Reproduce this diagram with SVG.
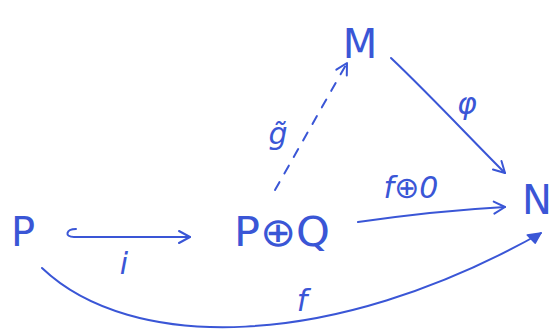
<svg xmlns="http://www.w3.org/2000/svg" width="552" height="329" viewBox="0 0 552 329">
<style>
.t{font-family:"DejaVu Sans","Liberation Sans",sans-serif;fill:#3a56d6}
.n{font-size:40px}
.l{font-size:30px;font-style:italic}
.c{fill:none;stroke:#3a56d6;stroke-width:2;stroke-linecap:round;stroke-linejoin:round}
</style>
<defs>
<marker id="open" markerWidth="16" markerHeight="16" refX="13" refY="8" orient="auto" markerUnits="userSpaceOnUse">
<path d="M2,2 L13,8 L2,14" fill="none" stroke="#3a56d6" stroke-width="2" stroke-linecap="round" stroke-linejoin="round"/>
</marker>
<marker id="fill" markerWidth="18" markerHeight="16" refX="15" refY="8" orient="auto" markerUnits="userSpaceOnUse">
<path d="M2,3 L15,8 L5,14 Z" fill="#3a56d6" stroke="#3a56d6" stroke-width="1.5" stroke-linejoin="round"/>
</marker>
</defs>
<rect width="552" height="329" fill="#fff"/>
<g id="connectors">
<g id="edge-i">
<path class="c" d="M76,229 C66,229 64,237 74,237 L190,237" marker-end="url(#open)"/>
<text class="t l" x="124" y="274" text-anchor="middle">i</text>
</g>
<g id="edge-g">
<path class="c" d="M275,190 L347,63" stroke-dasharray="9,10" marker-end="url(#open)"/>
<text class="t l" x="278" y="144" text-anchor="middle">g̃</text>
</g>
<g id="edge-phi">
<path class="c" d="M391,58 C430,95 470,138 505,173" marker-end="url(#open)"/>
<text class="t l" x="467" y="114" text-anchor="middle">φ</text>
</g>
<g id="edge-f0">
<path class="c" d="M358,222 C400,216 450,210 505,207" marker-end="url(#open)"/>
<text class="t l" x="411" y="198" text-anchor="middle">f⊕0</text>
</g>
<g id="edge-f">
<path class="c" d="M42,268 C130,352 330,352 541,233" marker-end="url(#fill)"/>
<text class="t l" x="302" y="311" text-anchor="middle">f</text>
</g>
</g>
<g id="node-P"><text class="t n" x="23" y="246" text-anchor="middle">P</text></g>
<g id="node-PQ"><text class="t n" x="282" y="246" text-anchor="middle" textLength="96" lengthAdjust="spacingAndGlyphs">P⊕Q</text></g>
<g id="node-M"><text class="t n" x="360" y="58" text-anchor="middle">M</text></g>
<g id="node-N"><text class="t n" x="537" y="214" text-anchor="middle">N</text></g>
</svg>
